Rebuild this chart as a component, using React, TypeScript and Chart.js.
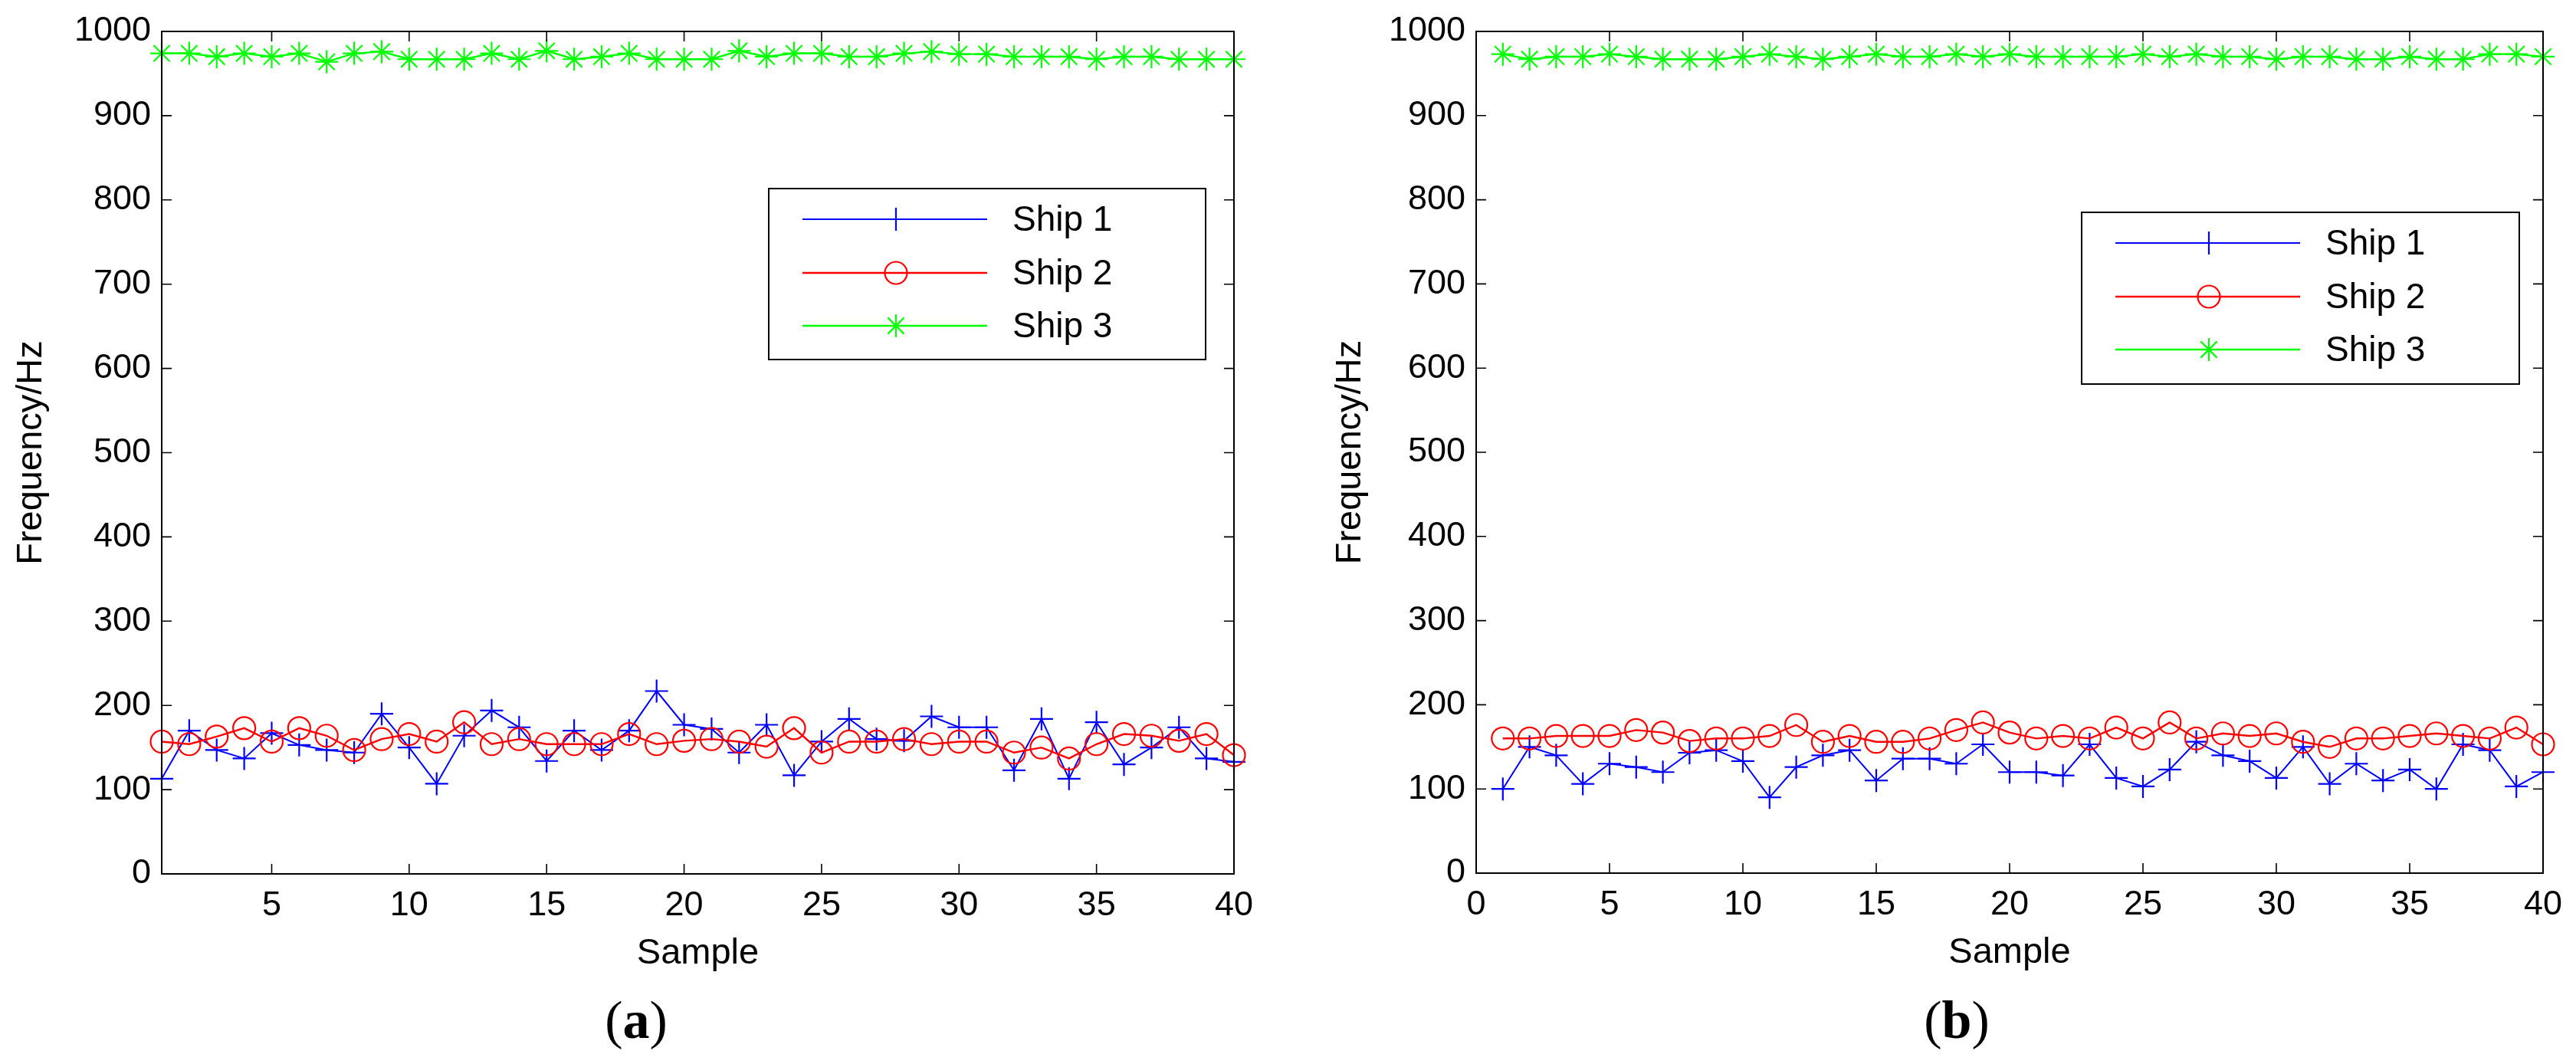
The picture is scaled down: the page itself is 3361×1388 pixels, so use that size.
import { useEffect, useRef } from 'react'
import { Chart, registerables } from 'chart.js'
import { drawPoint } from 'chart.js/helpers'
Chart.register(...registerables)

// sample index (x axis)
const samples = [1, 2, 3, 4, 5, 6, 7, 8, 9, 10, 11, 12, 13, 14, 15, 16, 17, 18, 19, 20,
    21, 22, 23, 24, 25, 26, 27, 28, 29, 30, 31, 32, 33, 34, 35, 36, 37, 38, 39, 40]

// panel (a), frequency in Hz
const ship1A = [113, 170, 147, 137, 167, 153, 147, 144, 190, 150, 107, 164, 194, 174, 134, 170, 147, 170, 217, 177,
    172, 144, 177, 117, 157, 184, 160, 158, 187, 174, 174, 123, 184, 113, 180, 130, 150, 174, 137, 133]
const ship2A = [157, 154, 163, 173, 157, 173, 164, 147, 160, 166, 157, 180, 154, 160, 154, 154, 154, 166, 154, 158,
    160, 157, 151, 173, 144, 157, 157, 160, 154, 157, 157, 144, 150, 137, 154, 166, 164, 158, 166, 141]
const ship3A = [974, 974, 970, 974, 970, 974, 964, 974, 976, 967, 967, 967, 974, 967, 977, 967, 970, 974, 967, 967,
    967, 977, 970, 974, 974, 970, 970, 974, 976, 973, 973, 970, 970, 970, 967, 970, 970, 967, 967, 967]

// panel (b), frequency in Hz
const ship1B = [100, 150, 140, 106, 130, 126, 120, 143, 146, 133, 90, 126, 140, 146, 110, 136, 136, 130, 153, 120,
    120, 116, 153, 113, 103, 123, 156, 140, 133, 113, 150, 106, 130, 110, 123, 100, 153, 146, 103, 120]
const ship2B = [160, 160, 163, 163, 163, 170, 167, 157, 160, 160, 163, 176, 156, 163, 156, 156, 160, 170, 179, 167,
    160, 163, 160, 173, 160, 179, 160, 166, 163, 166, 156, 150, 160, 160, 163, 166, 163, 160, 173, 153]
const ship3B = [973, 967, 970, 970, 973, 970, 967, 967, 967, 970, 973, 970, 967, 970, 973, 970, 970, 973, 970, 973,
    970, 970, 970, 970, 973, 970, 973, 970, 970, 967, 970, 970, 967, 967, 970, 967, 967, 973, 973, 970]

const xTicksA = [5, 10, 15, 20, 25, 30, 35, 40]
const xTicksB = [0, 5, 10, 15, 20, 25, 30, 35, 40]
const yTicks = [0, 100, 200, 300, 400, 500, 600, 700, 800, 900, 1000]
const legendLabels = ['Ship 1', 'Ship 2', 'Ship 3']

const FONT = '"Liberation Sans", Arial, Helvetica, sans-serif'

// MATLAB style box with inward ticks on all four sides
const framePlugin = {
    id: 'matlabFrame',
    afterDraw(chart: any) {
        const { ctx, chartArea: a, scales } = chart
        const tl = 13
        ctx.save()
        ctx.strokeStyle = '#000'
        ctx.lineWidth = 1.6
        ctx.beginPath()
        for (const t of scales.x.ticks) {
            const px = scales.x.getPixelForValue(t.value)
            ctx.moveTo(px, a.bottom); ctx.lineTo(px, a.bottom - tl)
            ctx.moveTo(px, a.top); ctx.lineTo(px, a.top + tl)
        }
        for (const t of scales.y.ticks) {
            const py = scales.y.getPixelForValue(t.value)
            ctx.moveTo(a.left, py); ctx.lineTo(a.left + tl, py)
            ctx.moveTo(a.right, py); ctx.lineTo(a.right - tl, py)
        }
        ctx.stroke()
        ctx.lineWidth = 2
        ctx.strokeRect(a.left, a.top, a.right - a.left, a.bottom - a.top)
        ctx.restore()
    },
}

const legendPlugin = {
    id: 'shipLegend',
    afterDraw(chart: any, _args: unknown, opts: any) {
        const { ctx, chartArea } = chart
        const bx = chartArea.left + opts.x
        const by = chartArea.top + opts.y
        ctx.save()
        ctx.fillStyle = '#fff'
        ctx.fillRect(bx, by, opts.w, opts.h)
        ctx.strokeStyle = '#000'
        ctx.lineWidth = 2
        ctx.strokeRect(bx, by, opts.w, opts.h)
        chart.data.datasets.forEach((ds: any, i: number) => {
            const y = by + opts.rows[i]
            ctx.strokeStyle = ds.borderColor
            ctx.lineWidth = ds.borderWidth
            ctx.beginPath()
            ctx.moveTo(bx + opts.lineStart, y)
            ctx.lineTo(bx + opts.lineEnd, y)
            ctx.stroke()
            ctx.fillStyle = 'rgba(0,0,0,0)'
            ctx.lineWidth = ds.pointBorderWidth
            drawPoint(ctx, { pointStyle: ds.pointStyle, radius: ds.pointRadius, rotation: 0, borderWidth: ds.pointBorderWidth }, bx + opts.marker, y)
            ctx.fillStyle = '#000'
            ctx.font = `46px ${FONT}`
            ctx.textAlign = 'left'
            ctx.textBaseline = 'middle'
            ctx.fillText(legendLabels[i], bx + opts.textX, y + 2)
        })
        ctx.restore()
    },
}

interface Panel {
    ship1: number[]; ship2: number[]; ship3: number[]
    xMin: number; xTicks: number[]
    left: number; width: number; height: number
    axisWidth: number; padTop: number; padRight: number; yTitlePad: number
    legend: { x: number; y: number; w: number; h: number }
}

const panelA: Panel = {
    ship1: ship1A, ship2: ship2A, ship3: ship3A, xMin: 1, xTicks: xTicksA,
    left: 0, width: 1680, height: 1272, axisWidth: 211, padTop: 41, padRight: 70, yTitlePad: 13,
    legend: { x: 792, y: 205, w: 570, h: 223 },
}
const panelB: Panel = {
    ship1: ship1B, ship2: ship2B, ship3: ship3B, xMin: 0, xTicks: xTicksB,
    left: 1720, width: 1641, height: 1271, axisWidth: 206, padTop: 36, padRight: 43, yTitlePad: 14,
    legend: { x: 790, y: 236, w: 571, h: 224 },
}

function series(values: number[]) {
    return samples.map((s, i) => ({ x: s, y: values[i] }))
}

function makeConfig(p: Panel): any {
    const tickFont = { family: FONT, size: 45 }
    const titleFont = { family: FONT, size: 47 }
    const plain = (v: number | string) => String(v)
    return {
        type: 'line',
        data: {
            datasets: [
                {
                    label: legendLabels[0], data: series(p.ship1), order: 3,
                    borderColor: '#0000ff', borderWidth: 2, tension: 0, fill: false, clip: false,
                    pointStyle: 'cross', pointRadius: 15, pointBorderWidth: 2.2,
                    pointBorderColor: '#0000ff', pointBackgroundColor: 'rgba(0,0,0,0)',
                },
                {
                    label: legendLabels[1], data: series(p.ship2), order: 2,
                    borderColor: '#ff0000', borderWidth: 2.4, tension: 0, fill: false, clip: false,
                    pointStyle: 'circle', pointRadius: 14.5, pointBorderWidth: 2.2,
                    pointBorderColor: '#ff0000', pointBackgroundColor: 'rgba(0,0,0,0)',
                },
                {
                    label: legendLabels[2], data: series(p.ship3), order: 1,
                    borderColor: '#00ff00', borderWidth: 2.4, tension: 0, fill: false, clip: false,
                    pointStyle: 'star', pointRadius: 15, pointBorderWidth: 2.2,
                    pointBorderColor: '#00ff00', pointBackgroundColor: 'rgba(0,0,0,0)',
                },
            ],
        },
        options: {
            animation: false, responsive: false, devicePixelRatio: 1,
            layout: { padding: { top: p.padTop, right: p.padRight, left: 0, bottom: 0 } },
            plugins: {
                legend: { display: false },
                tooltip: { enabled: false },
                shipLegend: { ...p.legend, rows: [40, 110, 179], lineStart: 44, lineEnd: 285, marker: 166, textX: 318 },
            },
            scales: {
                x: {
                    type: 'linear', min: p.xMin, max: 40,
                    afterBuildTicks: (s: any) => { s.ticks = p.xTicks.map(v => ({ value: v })) },
                    afterFit: (s: any) => { s.height = 132 },
                    grid: { display: false, drawTicks: false },
                    border: { display: false },
                    ticks: { font: tickFont, color: '#000', padding: 15, maxRotation: 0, autoSkip: false, callback: plain },
                    title: { display: true, text: 'Sample', font: titleFont, color: '#000', padding: { top: 0, bottom: 0 } },
                },
                y: {
                    type: 'linear', min: 0, max: 1000,
                    afterBuildTicks: (s: any) => { s.ticks = yTicks.map(v => ({ value: v })) },
                    afterFit: (s: any) => { s.width = p.axisWidth },
                    grid: { display: false, drawTicks: false },
                    border: { display: false },
                    ticks: { font: tickFont, color: '#000', padding: 14, autoSkip: false, callback: plain },
                    title: { display: true, text: 'Frequency/Hz', font: titleFont, color: '#000', padding: { top: p.yTitlePad, bottom: 0 } },
                },
            },
        },
        plugins: [framePlugin, legendPlugin],
    }
}

function ShipPanel({ panel }: { panel: Panel }) {
    const canvasRef = useRef<HTMLCanvasElement>(null)

    useEffect(() => {
        if (!canvasRef.current) return
        const chart = new Chart(canvasRef.current, makeConfig(panel))
        return () => chart.destroy()
    }, [panel])

    return (
        <canvas ref={canvasRef} width={panel.width} height={panel.height}
                style={{ position: 'absolute', left: panel.left, top: 0, width: panel.width, height: panel.height }} />
    )
}

function SubLabel({ cx, letter }: { cx: number; letter: string }) {
    return (
        <div style={{
            position: 'absolute', left: cx - 100, top: 1291, width: 200, height: 80,
            lineHeight: '80px', textAlign: 'center', fontSize: 70,
            fontFamily: '"Liberation Serif", "Times New Roman", serif', color: '#000',
        }}>
            (<b>{letter}</b>)
        </div>
    )
}

export default function App() {
    return (
        <div style={{ position: 'absolute', left: 0, top: 0, width: 3361, height: 1388, background: '#fff', overflow: 'hidden' }}>
            <ShipPanel panel={panelA} />
            <ShipPanel panel={panelB} />
            <SubLabel cx={830} letter="a" />
            <SubLabel cx={2553} letter="b" />
        </div>
    )
}
